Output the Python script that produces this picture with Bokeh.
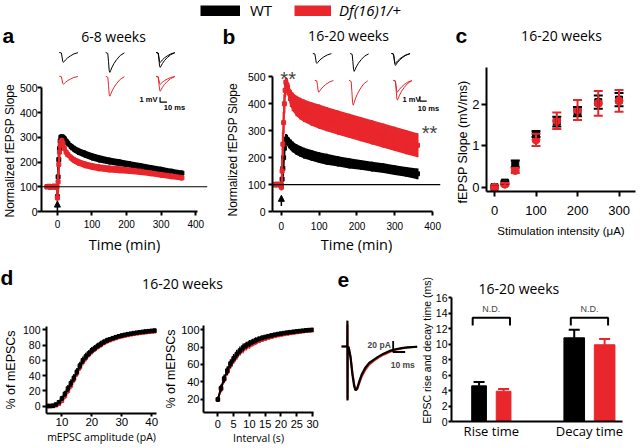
import math
from bokeh.plotting import figure
from bokeh.models import (Range1d, Label, Span, Arrow, NormalHead, FixedTicker, Title,
                          Legend, LegendItem, Whisker, ColumnDataSource, TeeHead)
from bokeh.layouts import row, column
from bokeh.embed import file_html
from bokeh.resources import INLINE

RED = "#e8262b"
BLACK = "#000000"
ARIAL = "Liberation Sans"
HUM = "Open Sans"

# ---------------- data ----------------
series_names = ["WT", "Df(16)1/+"]

# panel a : LTP 6-8 weeks (normalized fEPSP slope, %)
a_time = [-30, -25, -20, -15, -10, -5, -2, 0, 2, 4, 6, 8, 10, 13, 16, 20, 25, 30, 40, 50, 60,
          80, 100, 120, 150, 180, 210, 240, 270, 300, 330, 360]
a_wt = [100, 101, 99, 100, 101, 100, 99, 60, 140, 210, 255, 285, 300, 302, 300, 294, 285, 276,
        262, 251, 243, 231, 221, 213, 204, 197, 190, 183, 176, 169, 162, 155]
a_wt_err = [4, 4, 4, 4, 4, 4, 4, 12, 40, 35, 25, 15, 10, 8, 8, 10, 12, 13, 14, 15, 15, 15, 15,
            15, 14, 14, 13, 13, 12, 12, 11, 11]
a_df = [100, 102, 98, 100, 103, 98, 100, 55, 120, 190, 240, 268, 282, 286, 276, 255, 240, 230,
        216, 206, 199, 189, 182, 177, 172, 169, 165, 160, 154, 148, 142, 136]
a_df_err = [6, 6, 6, 6, 6, 6, 6, 15, 45, 40, 30, 20, 15, 12, 12, 13, 13, 13, 14, 14, 14, 14, 14,
            14, 14, 14, 13, 13, 12, 12, 12, 11]

# panel b : LTP 16-20 weeks
b_time = [-20, -16, -12, -8, -4, -1, 0, 2, 4, 6, 8, 10, 12, 15, 20, 25, 30, 40, 50, 60, 80, 100,
          120, 150, 180, 210, 240, 270, 300, 330, 360]
b_wt = [100, 99, 101, 100, 99, 100, 95, 120, 160, 200, 235, 258, 268, 265, 255, 247, 240, 230,
        223, 217, 208, 200, 194, 186, 179, 173, 167, 161, 154, 147, 140]
b_wt_err = [4, 4, 4, 4, 4, 4, 10, 30, 30, 30, 25, 20, 20, 20, 20, 20, 20, 20, 20, 20, 20, 20, 20,
            19, 19, 18, 18, 18, 18, 18, 20]
b_df = [100, 101, 99, 100, 102, 98, 90, 150, 250, 330, 400, 450, 480, 470, 440, 420, 407, 392,
        382, 374, 362, 352, 343, 330, 318, 306, 294, 282, 270, 258, 246]
b_df_err = [6, 6, 6, 6, 6, 6, 12, 45, 45, 40, 35, 25, 18, 25, 30, 32, 35, 38, 40, 42, 44, 45, 45,
            45, 45, 45, 45, 45, 45, 45, 45]

# panel c : input-output
c_stim = [0, 25, 50, 100, 150, 200, 250, 300]
c_wt = [0.0, 0.11, 0.56, 1.28, 1.58, 1.82, 2.05, 2.11]
c_wt_err = [0.02, 0.03, 0.08, 0.07, 0.12, 0.11, 0.16, 0.16]
c_df = [0.0, 0.07, 0.40, 1.14, 1.60, 1.86, 2.02, 2.08]
c_df_err = [0.02, 0.03, 0.06, 0.15, 0.20, 0.24, 0.30, 0.26]

# panel d : cumulative mEPSC distributions
d1_amp = [5, 6, 7, 8, 9, 10, 11, 12, 13, 14, 15, 16, 17, 18, 19, 20, 21, 22, 23, 24, 25, 26, 27,
          28, 29, 30, 31, 32, 33, 34, 35, 36, 37, 38, 39, 40, 41]
d1_wt = [0, 0, 0.5, 2, 5, 10, 16, 23, 30, 37, 45, 53, 60, 65, 69, 73, 76, 79, 81.5, 84, 86, 87.5,
         89, 90.3, 91.5, 92.5, 93.4, 94.2, 94.9, 95.6, 96.2, 96.8, 97.3, 97.8, 98.2, 98.6, 99.0]
d1_df = [0, 0, 0, 1, 3, 7, 13, 20, 27, 35, 43, 51, 58, 63.5, 68, 72, 75, 78, 80.5, 83, 85, 86.5,
         88, 89.3, 90.5, 91.5, 92.4, 93.2, 94, 94.7, 95.3, 95.9, 96.4, 96.9, 97.3, 97.7, 98.1]
d1_err = [0.5, 0.5, 1, 1.5, 2.5, 3.5, 4, 4.5, 5, 5, 5, 5, 5, 5, 4.5, 4.5, 4, 4, 4, 3.5, 3.5, 3, 3,
          3, 2.5, 2.5, 2.5, 2, 2, 2, 2, 1.5, 1.5, 1.5, 1.5, 1.5, 1.5]

d2_int = [0, 1, 2, 3, 4, 5, 6, 7, 8, 9, 10, 11, 12, 13, 14, 15, 16, 17, 18, 19, 20, 21, 22, 23,
          24, 25, 26, 27, 28, 29, 30]
d2_wt = [20, 33, 44, 53, 61, 67, 72, 76, 79.5, 82, 84, 86, 87.8, 89.2, 90.4, 91.4, 92.4, 93.3,
         94.1, 94.8, 95.4, 96, 96.5, 97, 97.5, 97.9, 98.3, 98.7, 99.1, 99.4, 99.6]
d2_df = [20, 32, 43, 52, 59.5, 65.5, 70.5, 74.5, 77.5, 80, 82, 84, 85.8, 87.3, 88.6, 89.7, 90.8,
         91.8, 92.7, 93.5, 94.2, 94.9, 95.5, 96.1, 96.6, 97.1, 97.6, 98.1, 98.6, 99, 99.3]
d2_err = [3, 4, 4.5, 5, 5, 5, 5, 4.5, 4.5, 4, 4, 3.5, 3.5, 3, 3, 2.5, 2.5, 2, 2, 2, 1.5, 1.5,
          1.5, 1.5, 1, 1, 1, 1, 0.8, 0.8, 0.8]

# panel e : EPSC kinetics
e_cat = ["Rise time", "Decay time"]
e_pos = [1, 2]
e_wt = [4.6, 10.8]
e_wt_err = [0.5, 1.05]
e_df = [3.9, 9.9]
e_df_err = [0.3, 0.75]
e_bar_w = [0.15, 0.21]

# example EPSC traces (ms, pA)
e_t = [-5, -0.2, -0.1, 0.0, 0.1, 1.0, 2.5, 4.0, 5.5, 6.7, 8, 10, 12, 15, 18, 22, 26, 30, 35, 40,
       45, 50, 58]
e_wt_trace = [0, 0, 47, -98, 0, -2, -20, -50, -72, -80, -76, -62, -50, -38, -30, -24, -18, -13,
              -8, -5, -3, -1.5, -0.5]
e_df_trace = [0, 0, 40, -95, 0, -2, -18, -46, -68, -78, -78, -66, -54, -42, -33, -26, -20, -15,
              -10, -6, -3.5, -2, -0.5]

# example fEPSP traces (ms, relative mV) and amplitudes (mV)
fepsp_ms = [0, 3, 4, 5, 6, 7, 9, 12, 16, 21, 27]
fepsp_shape = [0, -0.05, -0.45, -0.9, -1.0, -0.92, -0.75, -0.55, -0.35, -0.15, -0.02]
a_wt_amp = [[2.0], [4.0], [2.0, 3.0]]
a_df_amp = [[1.6], [4.0], [1.6, 3.0]]
b_wt_amp = [[2.0], [3.6], [2.0, 2.4]]
b_df_amp = [[2.4], [5.0], [2.4, 4.0]]


# ---------------- helpers ----------------
def mkfig(w, h, xr, yr, ml=0, mr=0, mt=0, mb=0, axes=True):
    p = figure(width=w, height=h, x_range=xr, y_range=yr,
               min_border_left=ml, min_border_right=mr, min_border_top=mt, min_border_bottom=mb,
               toolbar_location=None, output_backend="svg", title=None,
               x_axis_location="below" if axes else None,
               y_axis_location="left" if axes else None)
    p.frame_align = False
    p.grid.visible = False
    p.outline_line_color = None
    p.border_fill_color = "white"
    p.background_fill_color = "white"
    return p


def style_axis(ax, size, tick_out=4, standoff=3, ticks=None, bounds=None, font=ARIAL,
               label=None, lsize="12px", lfont=ARIAL, lstand=0):
    ax.axis_line_width = 2
    ax.axis_line_color = "black"
    ax.major_tick_line_width = 2
    ax.major_tick_line_color = "black"
    ax.major_tick_out = tick_out
    ax.major_tick_in = 0
    ax.minor_tick_line_color = None
    ax.major_label_text_font = font
    ax.major_label_text_font_size = size
    ax.major_label_text_color = "black"
    ax.major_label_standoff = standoff
    if ticks is not None:
        ax.ticker = FixedTicker(ticks=ticks)
    if bounds is not None:
        ax.bounds = bounds
    if label is not None:
        ax.axis_label = label
        ax.axis_label_text_font = lfont
        ax.axis_label_text_font_size = lsize
        ax.axis_label_text_font_style = "normal"
        ax.axis_label_text_color = "black"
        ax.axis_label_standoff = lstand


def ytitle(p, text, size, standoff, offset):
    p.add_layout(Title(text=text, align="left", offset=offset, standoff=standoff,
                       text_font=ARIAL, text_font_size=size, text_font_style="normal",
                       text_color="black"), "left")


def put(p, fl, fbot, rx, ry, text, size, font=ARIAL, style="normal", align="center",
        angle=0.0):
    # fl / fbot: page position of the frame's left and bottom edges; ry = text middle
    p.add_layout(Label(x=rx - fl, y=fbot - ry, x_units="screen", y_units="screen", text=text,
                       text_font=font, text_font_size=size, text_font_style=style,
                       text_align=align, text_baseline="middle", angle=angle,
                       text_color="black"))


def ltp(p, t, m, e, color):
    lo = [mi - ei for mi, ei in zip(m, e)]
    hi = [mi + ei for mi, ei in zip(m, e)]
    p.varea(x=t, y1=lo, y2=hi, fill_color=color)
    p.segment(x0=t, y0=lo, x1=t, y1=hi, line_color=color, line_width=2)
    p.line(t, m, line_color=color, line_width=2)
    p.scatter(t, m, marker="square", size=4, color=color)


def traces(p, fl_ref, xs_ref, base_ref, amps, color):
    for xr, amp_list in zip(xs_ref, amps):
        x0 = (xr - fl_ref) / 0.7
        y0 = -(base_ref - 47) / 5.0
        for amp in amp_list:
            p.line([x0 + t for t in fepsp_ms], [y0 + amp * s for s in fepsp_shape],
                   x_range_name="tr", y_range_name="tr", line_color=color, line_width=1)


def cdf(p, x, y, e, color, size):
    lo = [yi - ei for yi, ei in zip(y, e)]
    hi = [yi + ei for yi, ei in zip(y, e)]
    p.segment(x0=x, y0=lo, x1=x, y1=hi, line_color=color, line_width=1.5)
    p.line(x, y, line_color=color, line_width=2)
    p.scatter(x, y, marker="square", size=size, color=color)


# ---------------- top strip: legend + panel headings ----------------
top = mkfig(640, 47, Range1d(0, 640), Range1d(0, 47), axes=False)
r_wt = top.line(x=[-20, -10], y=[-20, -20], line_color=BLACK, line_width=11)
r_df = top.line(x=[-20, -10], y=[-20, -20], line_color=RED, line_width=11)
for r, name, x0, gw, st, sd in [(r_wt, series_names[0], 200, 40, "normal", 10),
                                (r_df, series_names[1], 294, 37, "italic", 8)]:
    top.add_layout(Legend(items=[LegendItem(label=name, renderers=[r])], location=(x0, 27),
                          orientation="horizontal", glyph_width=gw, glyph_height=11,
                          label_height=12, label_standoff=sd, padding=0, margin=0,
                          border_line_color=None, background_fill_alpha=0,
                          label_text_font=HUM, label_text_font_size="15px",
                          label_text_font_style=st, label_text_color="black"))
put(top, 0, 47, 2, 34.5, "a", "21px", style="bold", align="left")
put(top, 0, 47, 113, 36.0, "6-8 weeks", "14px", font=HUM)
put(top, 0, 47, 222, 35.5, "b", "21px", style="bold", align="left")
put(top, 0, 47, 348, 35.0, "16-20 weeks", "14px", font=HUM)
put(top, 0, 47, 455, 34.5, "c", "21px", style="bold", align="left")
put(top, 0, 47, 561, 35.0, "16-20 weeks", "14px", font=HUM)

# ---------------- panel a ----------------
fa = mkfig(218, 209, Range1d(-46, 434), Range1d(0, 662.7), ml=39, mr=11, mt=0, mb=44)
fa.extra_x_ranges = {"tr": Range1d(0, 168 / 0.7)}
fa.extra_y_ranges = {"tr": Range1d(-165 / 5.0, 0)}
style_axis(fa.xaxis[0], "10px", 4, 4, [0, 100, 200, 300, 400], (-46, 405),
           label="Time (min)", lsize="14.5px", lfont=HUM, lstand=4)
style_axis(fa.yaxis[0], "10.5px", 4, 0, [0, 100, 200, 300, 400, 500], (0, 500))
ytitle(fa, "Normalized fEPSP Slope", "12px", 0, -6)
fa.add_layout(Span(location=100, dimension="width", line_color="black", line_width=1.2))
ltp(fa, a_time, a_wt, a_wt_err, BLACK)
ltp(fa, a_time, a_df, a_df_err, RED)
fa.add_layout(Arrow(end=NormalHead(size=6, fill_color="black", line_color="black"),
                    x_start=0, y_start=2, x_end=0, y_end=42, line_width=1.5))
traces(fa, 39, [57, 104, 155], 52, a_wt_amp, BLACK)
traces(fa, 39, [57, 104, 155], 76, a_df_amp, RED)
fa.line(x=[(159 - 39) / 0.7, (159 - 39) / 0.7, (159 - 39) / 0.7 + 10], y=[-10, -11, -11],
        x_range_name="tr", y_range_name="tr", line_color="black", line_width=1.2)
put(fa, 39, 212, 155, 99.5, "1 mV", "7.5px", style="bold", align="right")
put(fa, 39, 212, 172, 108, "10 ms", "7.5px", style="bold")

# ---------------- panel b ----------------
fb = mkfig(230, 209, Range1d(-23.4, 420.8), Range1d(0, 609), ml=51, mr=8, mt=0, mb=44)
fb.extra_x_ranges = {"tr": Range1d(0, 171 / 0.7)}
fb.extra_y_ranges = {"tr": Range1d(-165 / 5.0, 0)}
style_axis(fb.xaxis[0], "10px", 4, 6, [0, 100, 200, 300, 400], (-23.4, 400),
           label="Time (min)", lsize="14.5px", lfont=HUM, lstand=2)
style_axis(fb.yaxis[0], "10.5px", 4, 3, [0, 100, 200, 300, 400, 500], (0, 500))
ytitle(fb, "Normalized fEPSP Slope", "12px", 10, -5)
fb.add_layout(Span(location=100, dimension="width", line_color="black", line_width=1.2))
ltp(fb, b_time, b_wt, b_wt_err, BLACK)
ltp(fb, b_time, b_df, b_df_err, RED)
fb.add_layout(Arrow(end=NormalHead(size=6, fill_color="black", line_color="black"),
                    x_start=0, y_start=20, x_end=0, y_end=60, line_width=1.5))
traces(fb, 269, [310, 348, 390], 53, b_wt_amp, BLACK)
traces(fb, 269, [312, 347, 392], 80, b_df_amp, RED)
fb.line(x=[(419 - 269) / 0.7, (419 - 269) / 0.7, (419 - 269) / 0.7 + 10], y=[-9.8, -10.8, -10.8],
        x_range_name="tr", y_range_name="tr", line_color="black", line_width=1.2)
put(fb, 269, 212, 417, 100, "1 mV", "7.5px", style="bold", align="right")
put(fb, 269, 212, 425, 109, "10 ms", "7.5px", style="bold")
fb.add_layout(Label(x=18, y=513, text="**", text_font=ARIAL, text_font_size="20px",
                    text_align="center", text_baseline="middle", y_offset=-6))
fb.add_layout(Label(x=392, y=314, text="**", text_font=ARIAL, text_font_size="20px",
                    text_align="center", text_baseline="middle", y_offset=-6))

# ---------------- panel c ----------------
fc = mkfig(192, 209, Range1d(-19.3, 339.7), Range1d(-0.104, 2.884), ml=38, mr=5, mt=20, mb=65)
style_axis(fc.xaxis[0], "13px", 5, 9, [0, 100, 200, 300],
           label="Stimulation intensity (\u03bcA)", lsize="11.5px", lstand=7)
style_axis(fc.yaxis[0], "13px", 5, 2, [0, 1, 2])
ytitle(fc, "fEPSP Slope (mV/ms)", "12.5px", 0, -12)
for vals, errs, color, marker, size in [(c_wt, c_wt_err, BLACK, "square", 7),
                                        (c_df, c_df_err, RED, "circle", 8)]:
    src = ColumnDataSource(dict(x=c_stim, y=vals,
                                lo=[v - e for v, e in zip(vals, errs)],
                                hi=[v + e for v, e in zip(vals, errs)]))
    fc.add_layout(Whisker(source=src, base="x", lower="lo", upper="hi", level="glyph",
                          line_color=color, line_width=2,
                          upper_head=TeeHead(size=9, line_color=color, line_width=2),
                          lower_head=TeeHead(size=9, line_color=color, line_width=2)))
    fc.scatter("x", "y", source=src, marker=marker, size=size, color=color)

# ---------------- panel d ----------------
hdr = mkfig(330, 40, Range1d(0, 330), Range1d(0, 40), axes=False)
put(hdr, 0, 296, 0, 277.4, "d", "21px", style="bold", align="left")
put(hdr, 0, 296, 182, 282.6, "16-20 weeks", "14px", font=HUM)

fd1 = mkfig(161, 152, Range1d(4.84, 41.6), Range1d(-9.8, 104.3), ml=42, mr=5, mt=30, mb=35)
style_axis(fd1.xaxis[0], "11.5px", 3, 1, [10, 20, 30, 40],
           label="mEPSC amplitude (pA)", lsize="10.5px", lfont=HUM, lstand=1)
style_axis(fd1.yaxis[0], "10.5px", 4, 2, [0, 20, 40, 60, 80, 100],
           label="% of mEPSCs", lsize="12.5px", lstand=2)
cdf(fd1, d1_amp, d1_df, d1_err, RED, 3.5)
cdf(fd1, d1_amp, d1_wt, d1_err, BLACK, 3.5)

fd2 = mkfig(169, 152, Range1d(-4.55, 30.3), Range1d(5.1, 104.6), ml=37, mr=17, mt=29, mb=36)
style_axis(fd2.xaxis[0], "11px", 4, 3, [0, 5, 10, 15, 20, 25, 30],
           label="Interval (s)", lsize="10.5px", lfont=HUM, lstand=0)
style_axis(fd2.yaxis[0], "11px", 3, 1, [20, 40, 60, 80, 100],
           label="% of mEPSCs", lsize="12.5px", lstand=0)
cdf(fd2, d2_int, d2_df, d2_err, RED, 3.5)
cdf(fd2, d2_int, d2_wt, d2_err, BLACK, 3.5)

# ---------------- panel e ----------------
fet = mkfig(88, 192, Range1d(-14.2, 59.1), Range1d(-185.5, 163.6), axes=False)
fet.line(e_t, e_df_trace, line_color=RED, line_width=2)
fet.line(e_t, e_wt_trace, line_color=BLACK, line_width=2.2)
fet.line(x=[38, 38, 48], y=[10, -10, -10], line_color="black", line_width=1.8)
fet.add_layout(Label(x=36, y=2, text="20 pA", text_font=ARIAL, text_font_size="8.5px",
                     text_font_style="bold", text_align="right", text_baseline="middle"))
fet.add_layout(Label(x=46, y=-33, text="10 ms", text_font=ARIAL, text_font_size="8.5px",
                     text_font_style="bold", text_align="center", text_baseline="middle"))
put(fet, 330, 448, 337, 279.4, "e", "21px", style="bold", align="left")

feb = mkfig(222, 192, Range1d(0.594, 2.337), Range1d(0, 16), ml=28, mr=18, mt=41, mb=27)
style_axis(feb.yaxis[0], "10.5px", 3, 1, list(range(0, 17, 2)))
ytitle(feb, "EPSC rise and decay time (ms)", "10.5px", 0, -2)
feb.add_layout(Title(text="16-20 weeks", align="left", offset=27, standoff=0, text_font=HUM,
                     text_font_size="14px", text_font_style="normal", text_color="black"),
               "above")
style_axis(feb.xaxis[0], "13px", 0, 0, e_pos, font=HUM)
feb.xaxis[0].major_tick_line_color = None
feb.xaxis[0].major_label_overrides = dict(zip(e_pos, e_cat))
bx_wt = [p - (w / 2 + 0.05) for p, w in zip(e_pos, e_bar_w)]
bx_df = [p + (w / 2 + 0.05) for p, w in zip(e_pos, e_bar_w)]
for bx, vals, errs, color in [(bx_wt, e_wt, e_wt_err, BLACK), (bx_df, e_df, e_df_err, RED)]:
    src = ColumnDataSource(dict(x=bx, top=vals, w=e_bar_w,
                                hi=[v + e for v, e in zip(vals, errs)]))
    feb.add_layout(Whisker(source=src, base="x", lower="top", upper="hi", level="underlay",
                           line_color=color, line_width=2, lower_head=None,
                           upper_head=TeeHead(size=11, line_color=color, line_width=2)))
    feb.vbar(x="x", top="top", width="w", source=src, color=color)
for pos in e_pos:
    feb.line(x=[pos - 0.19, pos - 0.19, pos + 0.19, pos + 0.19], y=[12.4, 13.4, 13.4, 12.4],
             line_color="black", line_width=2)
    feb.add_layout(Label(x=pos, y=14.5, text="N.D.", text_font=ARIAL, text_font_size="9px",
                         text_align="center", text_baseline="middle"))

layout = column(top,
                row(fa, fb, fc),
                row(column(hdr, row(fd1, fd2)), fet, feb))

open("out.html", "w").write(file_html(layout, INLINE))
